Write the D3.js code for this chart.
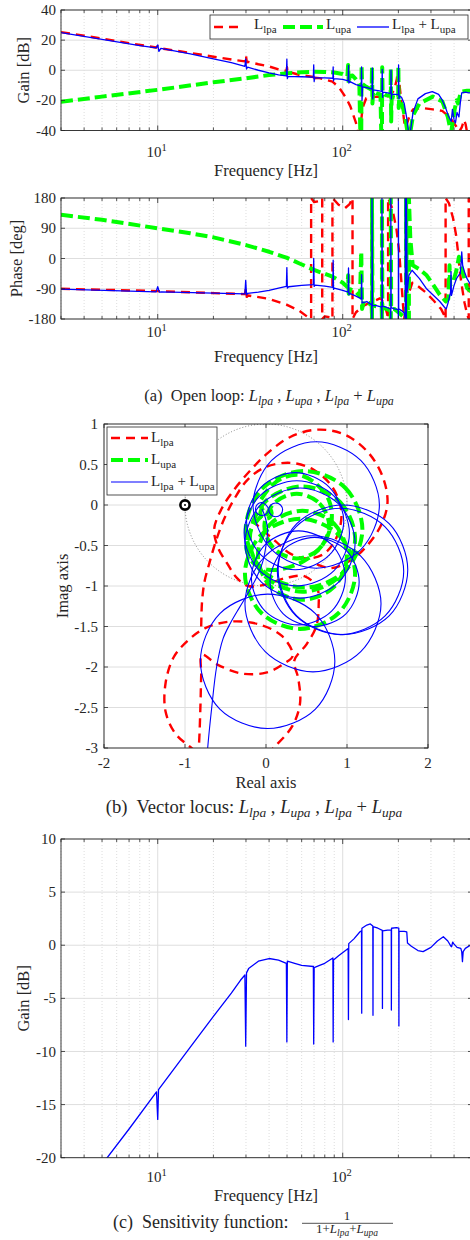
<!DOCTYPE html>
<html>
<head>
<meta charset="utf-8">
<script src="https://cdn.jsdelivr.net/npm/d3@7"></script>
<style>
  body { margin: 0; background: #fff; }
  svg text { font-family: "Liberation Serif", "Times New Roman", Times, serif; fill: #262626; white-space: pre; }
</style>
</head>
<body>
<script>
// ---- tick values ----
var freqDomain = [3, 500];
var freqTicks = [10, 100];
var gainTicks = [-40, -20, 0, 20, 40];
var phaseTicks = [-180, -90, 0, 90, 180];
var sensTicks = [-20, -15, -10, -5, 0, 5, 10];
var reTicks = [-2, -1, 0, 1, 2];
var imTicks = [-3, -2.5, -2, -1.5, -1, -0.5, 0, 0.5, 1];

// ---- open loop gain [Hz, dB] ----
var lpaGain = [[3,25.3],[4,23],[5,21],[7,18],[9.8,15.1],[10,16],[10.2,14.7],[15,11.5],[20,9],[25.5,7],[29.6,5.9],[30,10],[30.3,5.2],[30.8,5.6],[35,4],[40,2.5],[46,0.2],[49.7,-0.5],[50,2],[50.3,-1.5],[50.8,-1],[58,-3],[69.4,-4.5],[69.7,-3],[70.1,-6],[70.6,-5],[75,-5.2],[88,-7.6],[95,-11],[100,-15],[105,-19],[110,-24],[115,-31],[118,-35],[121,-41],[124,-41],[128,-25],[134,-18.6],[145,-17.8],[156,-17.5],[170,-18],[182,-16.5],[190,-13],[196,-6],[199,0],[203,-10],[208,-22],[213,-30],[217,-38],[222,-36],[230,-30],[240,-26],[265,-25],[307,-26],[345,-27],[378,-31],[412,-37.5],[425,-41],[440,-38],[453,-33],[462,-36],[470,-41],[500,-41]];
var upaGain = [[3,-21],[5,-17.5],[10,-13],[20,-8],[30,-5.3],[40,-3.2],[50,-2],[60,-1.3],[70,-1],[80,-1.1],[90,-1.5],[100,-2.5],[106,-4],[107,3.5],[107.8,-9],[109,-4],[113,-3.5],[118,-6],[123,-9],[124.5,-41],[126,-41],[126.5,3.5],[127.3,-9],[134,-11],[143.5,-13],[144,2],[144.8,-22],[146,-14],[152,-15.3],[160,-16],[161.5,-41],[163,-41],[163.5,2],[164.3,-15],[172,-16.6],[181.5,-17],[182,1],[182.8,-34],[184,-17.5],[190,-18],[199.5,-18.6],[200,2.5],[200.8,-25],[202,-19],[211,-24],[218,-32],[224,-41],[232,-41],[240,-30],[260,-22],[307,-17.5],[346,-20.8],[370,-31],[380,-38],[386,-41],[395,-33],[403,-26],[413,-20],[420,-22],[436,-14.2],[470,-13.6],[500,-13.6]];
var sumGain = [[3,25],[5,20.5],[8,16.4],[9.8,14.8],[10,16.8],[10.15,12.6],[10.4,14.5],[15,10.8],[20,7.6],[25,5],[29.6,2.6],[29.9,7.5],[30.2,0.8],[30.6,2],[35,0],[40,-1.8],[45,-3],[49.6,-3.8],[49.9,7.3],[50.2,-5.5],[50.6,-4.2],[55,-4.2],[60,-4.3],[69.4,-4.5],[69.7,3.5],[70.1,-7.5],[70.5,-4.9],[80,-5],[88.5,-5.3],[88.8,2.2],[89.2,-7],[89.6,-5.6],[100,-6],[107,-7],[107.5,3.2],[108,-8.5],[108.8,-7.4],[118,-9.5],[126,-10.5],[126.5,2.2],[127.2,-20],[128,-11],[135,-11.5],[144,-12.5],[144.5,1.5],[145.3,-19],[146,-13],[155,-13.5],[163,-14],[163.5,0.5],[164.3,-18],[165,-14.5],[175,-15],[182,-15.3],[182.5,0],[183.3,-19],[184,-15.8],[195,-16],[200,-16.3],[200.5,3.5],[201.3,-19],[202,-17],[208,-18],[215,-22],[222,-32],[227,-41],[232,-41],[240,-28],[255,-19],[280,-15.5],[305,-14.2],[330,-16],[345,-19.7],[360,-25],[372,-30],[386,-34],[392,-26],[400,-33],[407,-35],[415,-28],[425,-31],[432,-22],[440,-15],[460,-14.5],[480,-15],[500,-15]];

// ---- open loop phase [Hz, deg] ----
var lpaPhase = [[3,-90],[10,-97],[20,-103],[29.6,-106],[30,-88],[30.3,-114],[30.8,-110],[40,-120],[50,-138],[58,-155],[65,-175],[67.5,-180],[67.5,180],[70,168],[74,170],[77.5,180],[77.5,-180],[80,-172],[85,-175],[88,-180],[88,180],[95,160],[103,150],[109,162],[113,180],[113,-180],[118,-160],[130,-140],[145,-128],[160,-118],[168,-135],[174,-165],[176,-180],[176,180],[185,150],[195,90],[202,20],[207,-60],[212,-140],[215,-180],[222,-120],[238,-72],[255,-82],[280,-100],[310,-125],[340,-150],[355,-170],[360,-180],[360,180],[375,165],[395,120],[410,70],[420,20],[430,-40],[440,-80],[455,-130],[470,-165],[480,-180],[480,180],[495,140],[500,125]];
var upaPhase = [[3,130],[5,115],[10,90],[15,75],[20,63],[30,40],[40,20],[50,2],[58,-14],[70,-34],[88,-54],[100,-72],[106,-85],[107,-50],[107.8,-105],[110,-92],[118,-100],[124,-112],[126,20],[127.3,-150],[130,-128],[138,-132],[143.5,-140],[144,-180],[144,180],[144.8,-140],[152,-142],[162.5,-148],[163,-180],[163,180],[163.8,-145],[172,-150],[181.5,-155],[182,-180],[182,180],[182.8,-150],[190,-150],[200,-160],[210,-170],[219,-178],[220,-180],[220,180],[222,-100],[226,-170],[228,-180],[228,180],[232,60],[239,-20],[260,-32],[283,-49],[310,-80],[335,-108],[361,-128],[372,-120],[376,-60],[378,-20],[381,-80],[395,-70],[410,-40],[420,-10],[425,5],[432,-20],[440,-30],[455,-60],[470,-88],[500,-100]];
var sumPhase = [[3,-91],[9.8,-99],[10,-84],[10.2,-100],[10.5,-99],[20,-103],[29.6,-105],[29.9,-65],[30.2,-108],[30.6,-104],[35,-100],[40,-95],[45,-88],[49.6,-83],[49.9,-27],[50.2,-88],[51,-84],[60,-80],[69.4,-78],[69.7,0],[70.1,-83],[71,-79],[80,-82],[88.5,-86],[88.8,-5],[89.2,-92],[90,-88],[100,-95],[107,-100],[107.5,-28],[108,-108],[109,-104],[118,-112],[126,-120],[126.5,-48],[127.2,-132],[135,-128],[143.5,-138],[144,-180],[144,180],[144.8,-140],[152,-140],[162.5,-145],[163,-180],[163,180],[163.8,-142],[172,-145],[181.5,-150],[182,-180],[182,180],[182.8,-146],[190,-150],[199.5,-152],[200,-180],[200,180],[200.8,-150],[208,-155],[215,-162],[218,-180],[218,180],[219.5,-160],[221,-180],[221,180],[223,-100],[228,-50],[237,-35],[260,-60],[283,-89],[310,-110],[335,-128],[355,-145],[363,-150],[372,-130],[383,-100],[385,-39],[387,-110],[400,-80],[412,-60],[425,-49],[432,-45],[437,-10],[440,20],[445,-20],[455,-39],[470,-60],[485,-73],[500,-80]];

// ---- sensitivity gain [Hz, dB] ----
var sensGain = [[5,-20.7],[5.33,-20],[7,-17.3],[9.85,-13.8],[10,-16.4],[10.1,-13.6],[15,-9.6],[20,-6.7],[25,-4.5],[28,-3.3],[29.6,-2.8],[29.9,-9.5],[30.2,-2.6],[31,-2.2],[35,-1.5],[40,-1.25],[45,-1.4],[49.6,-1.7],[49.9,-9.1],[50.2,-1.5],[55,-1.7],[60,-1.9],[69.4,-2],[69.7,-9.3],[70.1,-2.1],[75,-1.9],[80,-1.7],[88.5,-1.2],[88.8,-9.1],[89.2,-1.4],[95,-1],[107,-0.3],[107.4,-7],[107.8,0.15],[115,0.6],[124,1.27],[126.4,1.35],[126.7,-6.4],[127,1.6],[135,1.9],[141,2.0],[145.5,1.8],[145.8,-6.6],[146.1,1.75],[155,1.6],[163.7,1.4],[164,-5.95],[164.3,1.35],[175,1.43],[183,1.45],[183.3,-6.1],[183.6,1.6],[195,1.65],[201,1.6],[201.3,-7.6],[201.6,1.3],[215,1.3],[222,1.25],[224,0.2],[235,-0.1],[255,-0.5],[272,-0.6],[300,-0.2],[325,0.4],[350,0.8],[370,0.4],[385,-0.1],[388,-0.14],[393,0.3],[400,0.1],[415,-0.2],[435,-0.3],[440,-0.6],[444,-1.55],[448,-0.6],[460,-0.3],[489,0],[500,0]];

// ---- vector locus [re, im] ----
var lpaLocusA = [[-0.86,-3.3],[-0.83,-3.0],[-0.81,-2.5],[-0.8,-2.1],[-0.79,-1.85],[-0.6,-1.97],[-0.3,-2.08],[0,-2.07],[0.22,-1.96],[0.33,-1.86],[0.2,-1.62],[-0.1,-1.47],[-0.45,-1.44],[-0.75,-1.52],[-0.96,-1.67],[-1.14,-1.88],[-1.24,-2.2],[-1.24,-2.55],[-1.12,-2.82],[-0.92,-3.0],[-0.6,-3.25],[-0.15,-3.2],[0.14,-2.95],[0.33,-2.72],[0.42,-2.45],[0.4,-2.15],[0.35,-1.92],[0.5,-1.72],[0.62,-1.5],[0.65,-1.25],[0.63,-1.02],[0.48,-0.88],[0.25,-0.9],[0,-0.98],[-0.22,-1.0],[-0.36,-0.9],[-0.48,-0.72],[-0.59,-0.53],[-0.64,-0.3],[-0.55,-0.05],[-0.4,0.18],[-0.2,0.42],[0.02,0.64],[0.3,0.84],[0.63,0.93],[0.97,0.87],[1.26,0.65],[1.44,0.35],[1.5,0.03],[1.42,-0.25],[1.25,-0.5],[1.05,-0.68],[0.8,-0.78],[0.6,-0.72]];
var lpaLocusB = [[-0.8,-1.5],[-0.79,-1.2],[-0.76,-0.95],[-0.7,-0.72],[-0.62,-0.45],[-0.52,-0.18],[-0.4,0.06],[-0.22,0.32],[0,0.47],[0.3,0.52],[0.58,0.44],[0.82,0.22],[0.93,-0.08],[0.88,-0.38],[0.72,-0.6],[0.5,-0.66],[0.3,-0.6],[0.12,-0.45],[-0.05,-0.3],[-0.22,-0.15]];
var upaLocus = [[-0.06,0.07],[0.05,0.22],[0.2,0.33],[0.41,0.37],[0.62,0.26],[0.78,0.05],[0.81,-0.2],[0.72,-0.46],[0.52,-0.66],[0.28,-0.77],[0.03,-0.8],[-0.15,-0.72],[-0.24,-0.55],[-0.22,-0.38],[-0.13,-0.22],[-0.04,-0.12],[0,-0.1]];
var upaLoops = [
  [[0.47,0.42],[0.98,0.21],[1.19,-0.3],[0.98,-0.81],[0.47,-1.02],[-0.04,-0.81],[-0.25,-0.3],[-0.04,0.21]],
  [[0.45,0.23],[0.91,0.04],[1.1,-0.42],[0.91,-0.88],[0.45,-1.07],[-0.01,-0.88],[-0.2,-0.42],[-0.01,0.04]],
  [[0.42,-0.17],[0.9,-0.37],[1.1,-0.85],[0.9,-1.33],[0.42,-1.53],[-0.06,-1.33],[-0.26,-0.85],[-0.06,-0.37]],
  [[0.45,-0.07],[0.84,-0.23],[1.0,-0.62],[0.84,-1.01],[0.45,-1.17],[0.06,-1.01],[-0.1,-0.62],[0.06,-0.23]],
  [[0.38,0.14],[0.66,0.02],[0.78,-0.26],[0.66,-0.54],[0.38,-0.66],[0.1,-0.54],[-0.02,-0.26],[0.1,0.02]],
  [[0,-0.03],[0.05,-0.05],[0.07,-0.1],[0.05,-0.15],[0,-0.17],[-0.05,-0.15],[-0.07,-0.1],[-0.05,-0.05]]
];
var sumLocus = [[-0.74,-3.3],[-0.72,-3.0],[-0.67,-2.5],[-0.61,-2.0],[-0.53,-1.65],[-0.44,-1.46],[-0.33,-1.27],[-0.24,-1.12],[-0.12,-0.9],[-0.04,-0.7],[0,-0.5],[0.02,-0.3],[-0.02,-0.12],[-0.05,-0.05]];
var sumLoops = [
  [[0.62,0.78],[1.17,0.55],[1.4,0],[1.17,-0.55],[0.62,-0.78],[0.07,-0.55],[-0.16,0],[0.07,0.55]],
  [[0.95,0],[1.52,-0.23],[1.75,-0.8],[1.52,-1.37],[0.95,-1.6],[0.38,-1.37],[0.15,-0.8],[0.38,-0.23]],
  [[0.92,-0.04],[1.47,-0.27],[1.7,-0.82],[1.47,-1.37],[0.92,-1.6],[0.37,-1.37],[0.14,-0.82],[0.37,-0.27]],
  [[0.58,-0.38],[1.17,-0.63],[1.42,-1.22],[1.17,-1.81],[0.58,-2.06],[-0.01,-1.81],[-0.26,-1.22],[-0.01,-0.63]],
  [[0.02,-1.1],[0.61,-1.34],[0.85,-1.93],[0.61,-2.52],[0.02,-2.76],[-0.57,-2.52],[-0.81,-1.93],[-0.57,-1.34]],
  [[0.36,0.4],[0.78,0.22],[0.96,-0.2],[0.78,-0.62],[0.36,-0.8],[-0.06,-0.62],[-0.24,-0.2],[-0.06,0.22]],
  [[0.38,0.3],[0.84,0.11],[1.03,-0.35],[0.84,-0.81],[0.38,-1.0],[-0.08,-0.81],[-0.27,-0.35],[-0.08,0.11]],
  [[0.42,0.21],[0.9,0.01],[1.1,-0.47],[0.9,-0.95],[0.42,-1.15],[-0.06,-0.95],[-0.26,-0.47],[-0.06,0.01]],
  [[0.4,-0.32],[0.81,-0.49],[0.98,-0.9],[0.81,-1.31],[0.4,-1.48],[-0.01,-1.31],[-0.18,-0.9],[-0.01,-0.49]],
  [[0.6,-0.4],[0.99,-0.56],[1.15,-0.95],[0.99,-1.34],[0.6,-1.5],[0.21,-1.34],[0.05,-0.95],[0.21,-0.56]],
  [[-0.05,0.03],[0.007,-0.007],[0.03,-0.05],[0.007,-0.107],[-0.05,-0.13],[-0.107,-0.107],[-0.13,-0.05],[-0.107,0.007]],
  [[0.12,0.025],[0.18,0],[0.205,-0.06],[0.18,-0.12],[0.12,-0.145],[0.06,-0.12],[0.035,-0.06],[0.06,0]]
];

var INK = "#262626";
var GRID = "#dedede";
var lpaStyle = { color: "#ff0000", width: 2.4, dash: "9,6" };
var upaStyle = { color: "#00ff00", width: 4, dash: "12,5" };
var sumStyle = { color: "#0000ff", width: 1.3, dash: null };

var svg = d3.select("body").append("svg").attr("width", 470).attr("height", 1240);
svg.append("rect").attr("width", 470).attr("height", 1240).attr("fill", "#fff");
var defs = svg.append("defs");
var clipCount = 0;
function makeClip(x0, y0, w, h) {
  var id = "clip" + (clipCount++);
  defs.append("clipPath").attr("id", id).append("rect")
    .attr("x", x0).attr("y", y0).attr("width", w).attr("height", h);
  return "url(#" + id + ")";
}
function styled(path, s) {
  path.attr("fill", "none").attr("stroke", s.color).attr("stroke-width", s.width)
    .attr("stroke-linejoin", "round");
  if (s.dash) path.attr("stroke-dasharray", s.dash);
  return path;
}
// "L" with a subscript, appended to a text element
function addL(text, sub, size, italic, dropBy) {
  var st = italic ? "italic" : "normal";
  text.append("tspan").attr("font-style", st).text("L");
  text.append("tspan").attr("font-style", st).attr("font-size", size).attr("dy", dropBy).text(sub);
  return -dropBy;
}
// caption with "L" terms separated by the given operators
function caption(x, y, size, lead, ops) {
  var t = svg.append("text").attr("x", x).attr("y", y).attr("text-anchor", "middle").attr("font-size", size);
  t.append("tspan").text(lead);
  var subs = ["lpa", "upa", "lpa", "upa"];
  subs.forEach(function(s, i) {
    addL(t, s, size * 0.72, true, 4);
    if (i < ops.length) t.append("tspan").attr("dy", -4).text(ops[i]);
  });
}

// ---- frequency panels ----
function freqPanel(p) {
  var left = 61, right = 472;
  var x = d3.scaleLog().domain(freqDomain).range([left, right]);
  var y = d3.scaleLinear().domain(p.yDomain).range([p.bottom, p.top]);
  var g = svg.append("g");
  var isMajor = function(v) { var l = Math.log10(v); return Math.abs(l - Math.round(l)) < 1e-6; };
  var all = x.ticks();
  var minor = all.filter(function(v) { return !isMajor(v); });

  g.selectAll(".mg").data(minor).join("line")
    .attr("x1", function(d) { return x(d); }).attr("x2", function(d) { return x(d); })
    .attr("y1", p.top).attr("y2", p.bottom)
    .attr("stroke", "#cfcfcf").attr("stroke-width", 0.7).attr("stroke-dasharray", "1,2");
  g.selectAll(".xg").data(freqTicks).join("line")
    .attr("x1", function(d) { return x(d); }).attr("x2", function(d) { return x(d); })
    .attr("y1", p.top).attr("y2", p.bottom).attr("stroke", GRID).attr("stroke-width", 1);
  g.selectAll(".yg").data(p.yTicks).join("line")
    .attr("x1", left).attr("x2", right)
    .attr("y1", function(d) { return y(d); }).attr("y2", function(d) { return y(d); })
    .attr("stroke", GRID).attr("stroke-width", 1);

  var line = d3.line().x(function(d) { return x(d[0]); }).y(function(d) { return y(d[1]); });
  var cg = g.append("g").attr("clip-path", makeClip(left, p.top, right - left, p.bottom - p.top));
  p.series.forEach(function(s) {
    styled(cg.append("path").attr("d", line(s.data)), s.style);
  });

  g.append("rect").attr("x", left).attr("y", p.top).attr("width", right - left)
    .attr("height", p.bottom - p.top).attr("fill", "none").attr("stroke", INK).attr("stroke-width", 0.9);

  // ticks inside the box
  var tk = g.append("g").attr("stroke", INK).attr("stroke-width", 0.8);
  all.forEach(function(v) {
    var len = isMajor(v) ? 5 : 3;
    tk.append("line").attr("x1", x(v)).attr("x2", x(v)).attr("y1", p.bottom).attr("y2", p.bottom - len);
    tk.append("line").attr("x1", x(v)).attr("x2", x(v)).attr("y1", p.top).attr("y2", p.top + len);
  });
  p.yTicks.forEach(function(v) {
    tk.append("line").attr("x1", left).attr("x2", left + 4).attr("y1", y(v)).attr("y2", y(v));
    tk.append("line").attr("x1", right).attr("x2", right - 4).attr("y1", y(v)).attr("y2", y(v));
  });

  p.yTicks.forEach(function(v) {
    g.append("text").attr("x", 56).attr("y", y(v)).attr("dy", "0.34em")
      .attr("text-anchor", "end").attr("font-size", 15).text(String(v));
  });
  freqTicks.forEach(function(v) {
    var t = g.append("text").attr("x", x(v) - 1).attr("y", p.tickY)
      .attr("text-anchor", "middle").attr("font-size", 15);
    t.append("tspan").text("10");
    t.append("tspan").attr("dy", -6).attr("font-size", 10.5).text(String(Math.round(Math.log10(v))));
  });
  g.append("text").attr("x", 266).attr("y", p.xLabelY).attr("text-anchor", "middle")
    .attr("font-size", 16.5).text("Frequency [Hz]");
  g.append("text").attr("transform", "translate(" + p.yLabelX + "," + ((p.top + p.bottom) / 2) + ") rotate(-90)")
    .attr("text-anchor", "middle").attr("font-size", 16.5).text(p.yLabel);
  return g;
}

freqPanel({
  top: 10, bottom: 130.5, yDomain: [-40, 40], yTicks: gainTicks,
  series: [{ data: lpaGain, style: lpaStyle }, { data: upaGain, style: upaStyle }, { data: sumGain, style: sumStyle }],
  tickY: 157, xLabelY: 176, yLabel: "Gain [dB]", yLabelX: 29
});

// legend of the gain panel
(function() {
  var lg = svg.append("g");
  lg.append("rect").attr("x", 210).attr("y", 15).attr("width", 258).attr("height", 24)
    .attr("fill", "#fff").attr("stroke", INK).attr("stroke-width", 0.8);
  var items = [
    { style: lpaStyle, x0: 214, x1: 244, tx: 254, subs: ["lpa"] },
    { style: upaStyle, x0: 283, x1: 323, tx: 326, subs: ["upa"] },
    { style: sumStyle, x0: 357, x1: 389, tx: 392, subs: ["lpa", "upa"] }
  ];
  items.forEach(function(it) {
    styled(lg.append("line").attr("x1", it.x0).attr("x2", it.x1).attr("y1", 27).attr("y2", 27), it.style);
    var t = lg.append("text").attr("x", it.tx).attr("y", 28.5).attr("font-size", 15);
    addL(t, it.subs[0], 11, false, 4);
    if (it.subs.length > 1) {
      t.append("tspan").attr("dy", -4).text(" + ");
      addL(t, it.subs[1], 11, false, 4);
    }
  });
})();

freqPanel({
  top: 198, bottom: 319, yDomain: [-180, 180], yTicks: phaseTicks,
  series: [{ data: lpaPhase, style: lpaStyle }, { data: upaPhase, style: upaStyle }, { data: sumPhase, style: sumStyle }],
  tickY: 337, xLabelY: 362, yLabel: "Phase [deg]", yLabelX: 22
});

caption(269, 401, 16.5, "(a)  Open loop: ", [" , ", " , ", " + "]);

// ---- vector locus ----
(function() {
  var left = 104, right = 428, top = 424, bottom = 748;
  var x = d3.scaleLinear().domain([-2, 2]).range([left, right]);
  var y = d3.scaleLinear().domain([-3, 1]).range([bottom, top]);
  var g = svg.append("g");
  g.selectAll(".xg").data(reTicks).join("line")
    .attr("x1", function(d) { return x(d); }).attr("x2", function(d) { return x(d); })
    .attr("y1", top).attr("y2", bottom).attr("stroke", GRID);
  g.selectAll(".yg").data(imTicks).join("line")
    .attr("x1", left).attr("x2", right)
    .attr("y1", function(d) { return y(d); }).attr("y2", function(d) { return y(d); }).attr("stroke", GRID);

  var cg = g.append("g").attr("clip-path", makeClip(left, top, right - left, bottom - top));
  cg.append("circle").attr("cx", x(0)).attr("cy", y(0)).attr("r", x(1) - x(0))
    .attr("fill", "none").attr("stroke", "#555").attr("stroke-width", 0.7).attr("stroke-dasharray", "1,2");

  var open = d3.line().x(function(d) { return x(d[0]); }).y(function(d) { return y(d[1]); }).curve(d3.curveCatmullRom);
  var closed = d3.line().x(function(d) { return x(d[0]); }).y(function(d) { return y(d[1]); }).curve(d3.curveCatmullRomClosed);

  styled(cg.append("path").attr("d", open(lpaLocusA)), lpaStyle);
  styled(cg.append("path").attr("d", open(lpaLocusB)), lpaStyle);
  styled(cg.append("path").attr("d", open(upaLocus)), upaStyle);
  upaLoops.forEach(function(l) { styled(cg.append("path").attr("d", closed(l)), upaStyle); });
  var thin = { color: sumStyle.color, width: 1.1, dash: null };
  styled(cg.append("path").attr("d", open(sumLocus)), thin);
  sumLoops.forEach(function(l) { styled(cg.append("path").attr("d", closed(l)), thin); });

  // critical point
  g.append("circle").attr("cx", x(-1)).attr("cy", y(0)).attr("r", 4.6)
    .attr("fill", "#fff").attr("stroke", "#000").attr("stroke-width", 2.6);
  g.append("circle").attr("cx", x(-1)).attr("cy", y(0)).attr("r", 1).attr("fill", "#000");

  g.append("rect").attr("x", left).attr("y", top).attr("width", right - left).attr("height", bottom - top)
    .attr("fill", "none").attr("stroke", INK).attr("stroke-width", 0.9);
  var tk = g.append("g").attr("stroke", INK).attr("stroke-width", 0.8);
  reTicks.forEach(function(v) {
    tk.append("line").attr("x1", x(v)).attr("x2", x(v)).attr("y1", bottom).attr("y2", bottom - 4);
    tk.append("line").attr("x1", x(v)).attr("x2", x(v)).attr("y1", top).attr("y2", top + 4);
  });
  imTicks.forEach(function(v) {
    tk.append("line").attr("x1", left).attr("x2", left + 4).attr("y1", y(v)).attr("y2", y(v));
    tk.append("line").attr("x1", right).attr("x2", right - 4).attr("y1", y(v)).attr("y2", y(v));
  });
  reTicks.forEach(function(v) {
    g.append("text").attr("x", x(v)).attr("y", 768).attr("text-anchor", "middle").attr("font-size", 15).text(String(v));
  });
  imTicks.forEach(function(v) {
    g.append("text").attr("x", 98).attr("y", y(v)).attr("dy", "0.34em").attr("text-anchor", "end")
      .attr("font-size", 15).text(String(v));
  });
  g.append("text").attr("x", 266).attr("y", 788).attr("text-anchor", "middle").attr("font-size", 16.5).text("Real axis");
  g.append("text").attr("transform", "translate(68," + ((top + bottom) / 2) + ") rotate(-90)")
    .attr("text-anchor", "middle").attr("font-size", 16.5).text("Imag axis");

  // legend
  var lg = g.append("g");
  lg.append("rect").attr("x", 107).attr("y", 427).attr("width", 110).attr("height", 68)
    .attr("fill", "#fff").attr("stroke", INK).attr("stroke-width", 0.8);
  var rows = [
    { style: lpaStyle, y: 438, subs: ["lpa"] },
    { style: upaStyle, y: 460, subs: ["upa"] },
    { style: thin, y: 482, subs: ["lpa", "upa"] }
  ];
  rows.forEach(function(r) {
    styled(lg.append("line").attr("x1", 111).attr("x2", 148).attr("y1", r.y).attr("y2", r.y), r.style);
    var t = lg.append("text").attr("x", 151).attr("y", r.y + 3.5).attr("font-size", 15);
    addL(t, r.subs[0], 11, false, 4);
    if (r.subs.length > 1) {
      t.append("tspan").attr("dy", -4).text(" + ");
      addL(t, r.subs[1], 11, false, 4);
    }
  });
})();

caption(254, 813, 18.6, "(b)  Vector locus: ", [" , ", " , ", " + "]);

// ---- sensitivity ----
freqPanel({
  top: 839, bottom: 1157.7, yDomain: [-20, 10], yTicks: sensTicks,
  series: [{ data: sensGain, style: sumStyle }],
  tickY: 1182, xLabelY: 1201, yLabel: "Gain [dB]", yLabelX: 29
});

(function() {
  svg.append("text").attr("x", 113).attr("y", 1228).attr("font-size", 18).text("(c)  Sensitivity function: ");
  svg.append("text").attr("x", 347).attr("y", 1220).attr("text-anchor", "middle").attr("font-size", 13).text("1");
  svg.append("line").attr("x1", 302).attr("x2", 393).attr("y1", 1223.3).attr("y2", 1223.3)
    .attr("stroke", INK).attr("stroke-width", 0.8);
  var d = svg.append("text").attr("x", 347).attr("y", 1233).attr("text-anchor", "middle").attr("font-size", 13);
  d.append("tspan").text("1+");
  addL(d, "lpa", 9.5, true, 3);
  d.append("tspan").attr("dy", -3).text("+");
  addL(d, "upa", 9.5, true, 3);
})();
</script>
</body>
</html>
